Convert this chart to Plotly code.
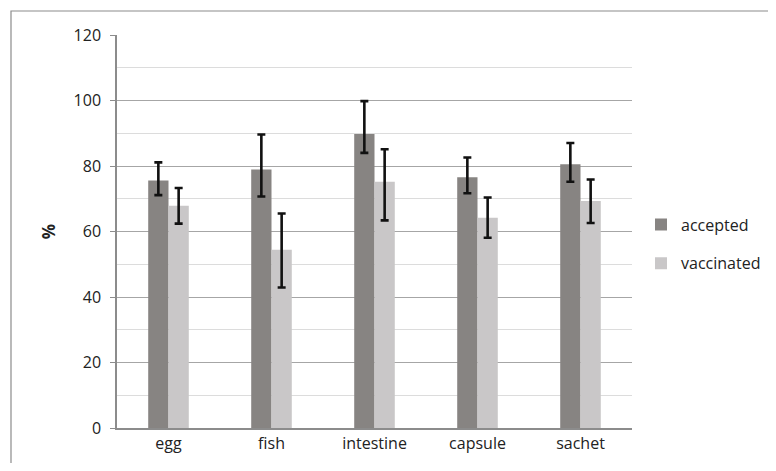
import plotly.graph_objects as go

categories = ["egg", "fish", "intestine", "capsule", "sachet"]
accepted = [75.6, 78.9, 89.8, 76.6, 80.5]
accepted_err_plus = [5.5, 10.7, 10.0, 6.0, 6.5]
accepted_err_minus = [4.5, 8.2, 5.8, 4.9, 5.3]
vaccinated = [67.9, 54.4, 75.2, 64.2, 69.3]
vaccinated_err_plus = [5.4, 11.1, 9.9, 6.2, 6.6]
vaccinated_err_minus = [5.5, 11.5, 11.8, 6.1, 6.7]
y_ticks = [0, 20, 40, 60, 80, 100, 120]

# page has an 8px body margin; figure coordinates are page minus 8
OFF = 8
W, H = 776 - 2 * OFF, 471 - 2 * OFF
ml, mt = 117 - OFF, 35 - OFF
pw, ph = 515, 393
mr, mb = W - ml - pw, H - mt - ph

font = "Open Sans, Liberation Sans, sans-serif"

fig = go.Figure()
fig.add_trace(go.Bar(
    name="accepted", x=categories, y=accepted,
    marker=dict(color="#878482", line=dict(width=0)),
    error_y=dict(type="data", symmetric=False, array=accepted_err_plus,
                 arrayminus=accepted_err_minus, color="#111111", thickness=2.6, width=4),
    legendgroup="a",
))
fig.add_trace(go.Bar(
    name="vaccinated", x=categories, y=vaccinated,
    marker=dict(color="#c9c7c8", line=dict(width=0)),
    error_y=dict(type="data", symmetric=False, array=vaccinated_err_plus,
                 arrayminus=vaccinated_err_minus, color="#111111", thickness=2.6, width=4),
    legendgroup="b",
))

def px_to_paper_x(px):
    return (px - OFF - ml) / pw

def px_to_paper_y(py):
    return (H - mb - (py - OFF)) / ph

# outer chart border (extends beyond the image on right and bottom)
fig.add_shape(type="rect", xref="paper", yref="paper",
              x0=px_to_paper_x(11), y0=px_to_paper_y(471 + 30),
              x1=px_to_paper_x(776 + 30), y1=px_to_paper_y(11),
              line=dict(color="#8c8c8c", width=1.2), fillcolor="rgba(0,0,0,0)", layer="below")

fig.update_layout(
    width=W, height=H,
    margin=dict(l=ml, r=mr, t=mt, b=mb, autoexpand=False),
    paper_bgcolor="white", plot_bgcolor="white",
    barmode="group", bargap=0.606, bargroupgap=0,
    font=dict(family=font, size=16, color="#222222"),
    showlegend=True,
    legend=dict(x=px_to_paper_x(641), y=px_to_paper_y(244), xanchor="left", yanchor="middle",
                font=dict(size=16, color="#222222"), tracegroupgap=15,
                bgcolor="rgba(0,0,0,0)"),
    xaxis=dict(showline=True, linecolor="#8c8c8c", linewidth=1.5, ticks="",
               showgrid=False, tickfont=dict(size=16), ticklabelstandoff=0),
    yaxis=dict(range=[0, 120], tickvals=y_ticks, showline=True, linecolor="#8c8c8c",
               linewidth=1.5, ticks="outside", ticklen=5, tickcolor="#8c8c8c", tickwidth=1.2,
               showgrid=True, gridcolor="#a6a6a6", gridwidth=1.2,
               minor=dict(dtick=10, showgrid=True, gridcolor="#dcdcdc", gridwidth=1.2),
               tickfont=dict(size=16), ticklabelstandoff=6, zeroline=False,
               title=dict(text="<b>%</b>", font=dict(size=17), standoff=14)),
)

fig.write_html("out.html")
